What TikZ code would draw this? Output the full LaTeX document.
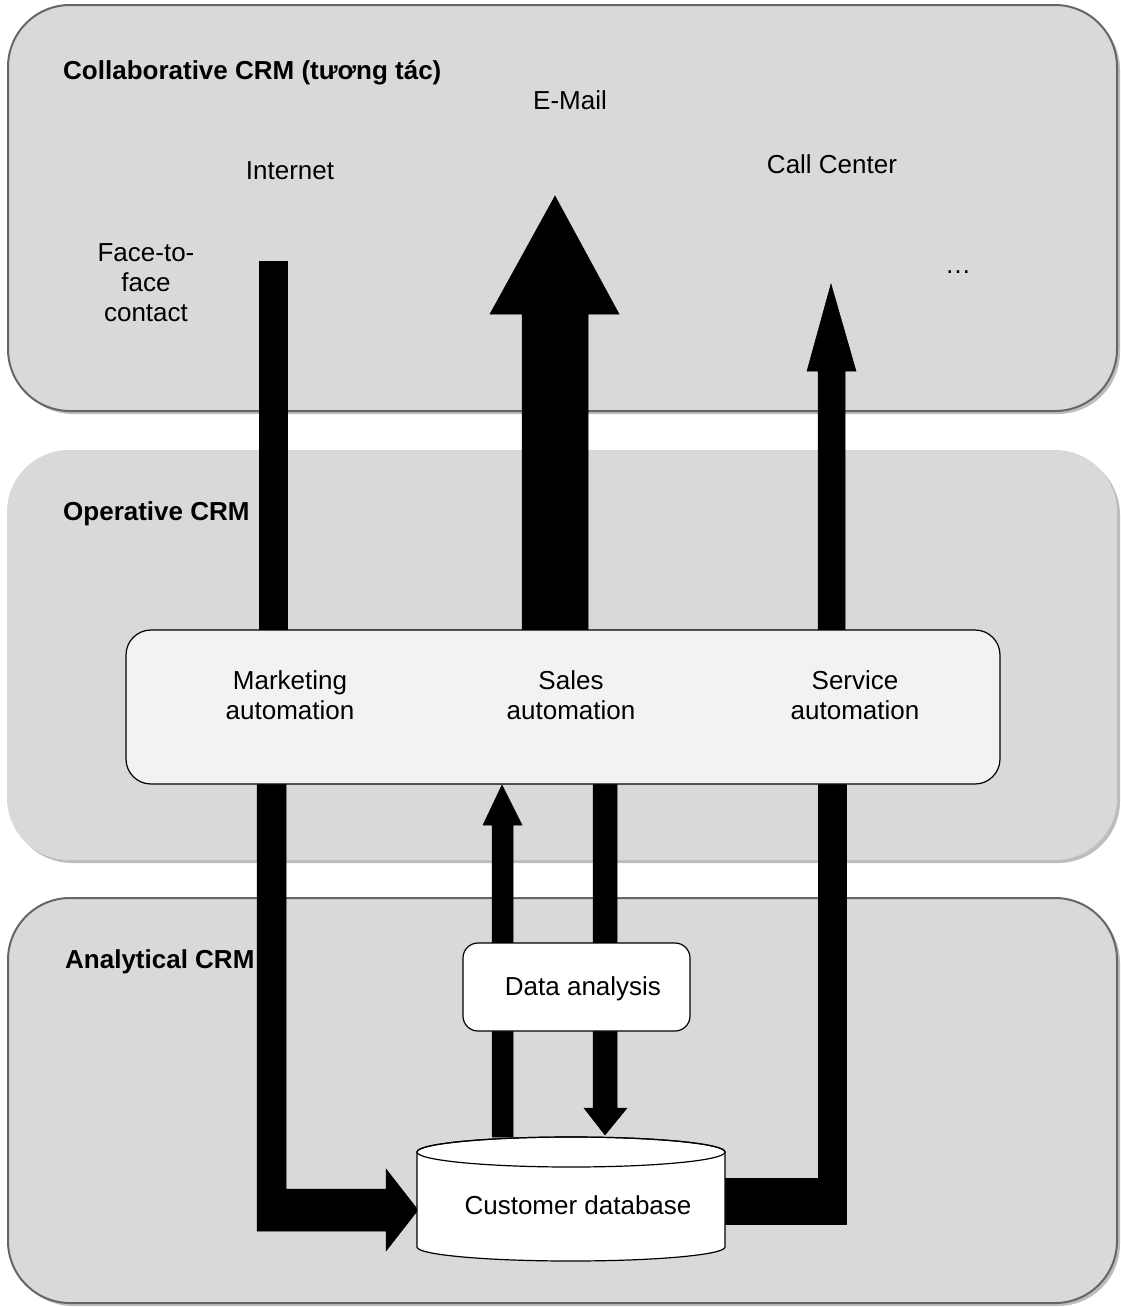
\documentclass[tikz,border=0pt]{standalone}
\usepackage{fontspec}
\setmainfont{Liberation Sans}
\definecolor{panelgray}{HTML}{D9D9D9}
\definecolor{panelline}{HTML}{666666}
\definecolor{shadowgray}{HTML}{BDBDBD}
\definecolor{boxfill}{HTML}{F2F2F2}
\begin{document}
\begin{tikzpicture}[x=1pt,y=-1pt,
  panel/.style={fill=panelgray, rounded corners=62pt},
  panelshadow/.style={fill=shadowgray, rounded corners=62pt},
  panelborder/.style={draw=panelline, line width=2pt},
  txt/.style={inner sep=0pt, font=\fontsize{26}{30}\selectfont, align=center},
  title/.style={inner sep=0pt, anchor=west, font=\fontsize{26}{30}\selectfont\bfseries},
  blockarrow/.style={fill=black, draw=black, line width=0.5pt},
  autobox/.style={draw=black, line width=1.2pt, fill=boxfill, rounded corners=25pt},
  smallbox/.style={draw=black, line width=1.2pt, fill=white, rounded corners=15pt}
]
\useasboundingbox (0,0) rectangle (1120,1307);
% panels
\fill[panelshadow] (11,8) rectangle (1120,414);
\fill[panel] (8,5) rectangle (1117,411);
\draw[panelborder, rounded corners=62pt] (8,5) rectangle (1117,411);
\fill[panelshadow] (10,453) rectangle (1120,863);
\fill[panel] (7,450) rectangle (1117,860);
\fill[panelshadow] (11,901) rectangle (1120,1306);
\fill[panel] (8,898) rectangle (1117,1303);
\draw[panelborder, rounded corners=62pt] (8,898) rectangle (1117,1303);

% titles and labels
\node[title] (tcollab) at (63,73) {Collaborative CRM (tương tác)};
\node[title] (toper) at (63,514) {Operative CRM};
\node[title] (tanal) at (65,962) {Analytical CRM};
\node[txt] (email) at (570,100) {E-Mail};
\node[txt] (internet) at (290,171) {Internet};
\node[txt] (callc) at (832,164) {Call Center};
\node[txt] (face) at (146,283) {Face-to-\\face\\contact};
\node[txt] (dots) at (958,272) {…};

% arrows
\fill[blockarrow] (259,261) rectangle (287,630);
\fill[blockarrow] (522,632) -- (522,314) -- (490,314) -- (555,196) -- (619,314) -- (588,314) -- (588,632) -- cycle;
\fill[blockarrow] (818,630) -- (818,371) -- (807,371) -- (831,284) -- (856,371) -- (845,371) -- (845,630) -- cycle;
\fill[blockarrow] (257,784) -- (286,784) -- (286,1189) -- (386,1189) -- (386,1169) -- (418,1210) -- (386,1251) -- (386,1231) -- (257,1231) -- cycle;
\fill[blockarrow] (492,1137) -- (492,825) -- (483,825) -- (502,785) -- (522,825) -- (513,825) -- (513,1137) -- cycle;
\fill[blockarrow] (593,784) -- (593,1108) -- (584,1108) -- (605,1135) -- (627,1108) -- (617,1108) -- (617,784) -- cycle;
\fill[blockarrow] (725,1178) -- (818,1178) -- (818,784) -- (846,784) -- (846,1224) -- (725,1224) -- cycle;

% automation box
\draw[autobox] (126,630) rectangle (1000,784);
\node[txt] (mkt) at (290,695) {Marketing\\automation};
\node[txt] (sales) at (571,695) {Sales\\automation};
\node[txt] (serv) at (855,695) {Service\\automation};

% data analysis box
\draw[smallbox] (463,943) rectangle (690,1031);
\node[txt] (data) at (583,989) {Data analysis};

% cylinder
\draw[fill=white, line width=1.2pt] (417,1152) -- (417,1247) arc[start angle=180, end angle=0, x radius=154, y radius=14] -- (725,1152) arc[start angle=0, end angle=-180, x radius=154, y radius=15] -- cycle;
\draw[line width=1.2pt] (571,1152) ellipse[x radius=154, y radius=15];
\node[txt] (cdb) at (578,1205) {Customer database};
\end{tikzpicture}
\end{document}
